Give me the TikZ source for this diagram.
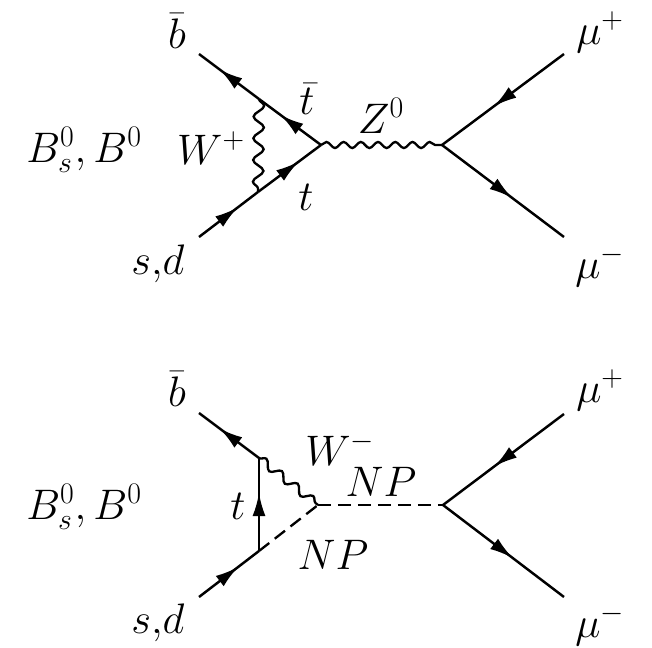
\RequirePackage{fix-cm}
\documentclass[tikz,border=0pt]{standalone}
\usetikzlibrary{decorations.pathmorphing,decorations.markings,arrows.meta}
\begin{document}
\begin{tikzpicture}[x=0.691pt,y=-0.691pt,
  every node/.style={font=\fontsize{29.5}{35}\selectfont, inner sep=0pt},
  fermion/.style={line width=1.7pt, postaction={decorate},
    decoration={markings, mark=at position 0.5 with {\arrow[xshift=8pt]{Latex[length=16pt,width=9pt]}}}},
  boson/.style 2 args={line width=1.6pt, decorate,
    decoration={snake, amplitude=#1, segment length=#2}},
  scalar/.style={line width=1.6pt, dash pattern=on 9pt off 4.8pt}]
\useasboundingbox (0,0) rectangle (652,648);

% ---------- top diagram ----------
\coordinate (Bt) at (199,54);
\coordinate (Jt) at (259,99);
\coordinate (V1) at (321,145);
\coordinate (Jb) at (258,192);
\coordinate (St) at (199,237);
\coordinate (V2) at (442,145);
\coordinate (Mp) at (564,54);
\coordinate (Mm) at (564,237);

\draw[fermion] (V1) -- (Jt);
\draw[fermion] (Jt) -- (Bt);
\draw[fermion] (St) -- (Jb);
\draw[fermion] (Jb) -- (V1);
\draw[boson={3.6pt}{15pt}] (Jt) -- (Jb);
\draw[boson={2.1pt}{11.9pt}] (V1) -- (V2);
\draw[fermion] (Mp) -- (V2);
\draw[fermion] (V2) -- (Mm);

\node (lbt) at (177,31) {$\bar{b}$};
\node (ltbar) at (307,99) {$\bar{t}$};
\node (lz) at (381,116) {$Z^0$};
\node (lw) at (211,148) {$W^+$};
\node (lt) at (306,197) {$t$};
\node (lsdt) at (158,264) {$s{,}d$};
\node (lBt) at (84,150) {$B_s^0, B^0$};
\node (lmpt) at (600,32) {$\mu^+$};
\node (lmmt) at (600,266) {$\mu^-$};

% ---------- bottom diagram ----------
\coordinate (Bb) at (199,413);
\coordinate (C1) at (259,458);
\coordinate (C2) at (259,551);
\coordinate (Sb) at (199,597);
\coordinate (V3) at (318,505);
\coordinate (V4) at (443,505);
\coordinate (Mp2) at (564,414);
\coordinate (Mm2) at (564,597);

\draw[fermion] (C1) -- (Bb);
\draw[fermion] (C2) -- (C1);
\draw[fermion] (Sb) -- (C2);
\draw[boson={2.8pt}{13.8pt}] (C1) -- (V3);
\draw[scalar] (C2) -- (V3);
\draw[scalar] (V3) -- (V4);
\draw[fermion] (Mp2) -- (V4);
\draw[fermion] (V4) -- (Mm2);

\node (lbb) at (177,389) {$\bar{b}$};
\node (lwm) at (340,449) {$W^-$};
\node (lnp1) at (381,482) {$NP$};
\node (ltb) at (238,506) {$t$};
\node (lnp2) at (333,555) {$NP$};
\node (lsdb) at (158,623) {$s{,}d$};
\node (lBb) at (84,507) {$B_s^0, B^0$};
\node (lmpb) at (600,390) {$\mu^+$};
\node (lmmb) at (600,625) {$\mu^-$};
\end{tikzpicture}
\end{document}
